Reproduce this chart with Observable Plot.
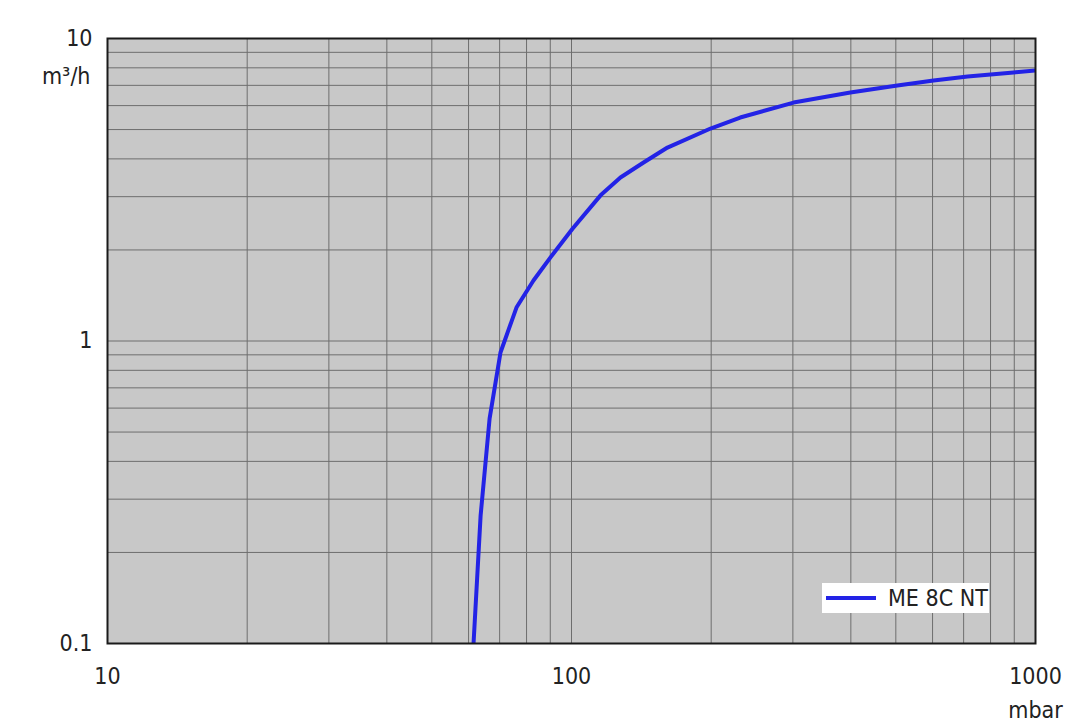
<!DOCTYPE html>
<html>
<head>
<meta charset="utf-8">
<script src="https://cdn.jsdelivr.net/npm/d3@7"></script>
<script src="https://cdn.jsdelivr.net/npm/@observablehq/plot@0.6"></script>
<style>
  html, body { margin: 0; padding: 0; background: #fff; }
  #wrap { position: relative; width: 1080px; height: 721px; font-family: "DejaVu Sans Condensed", "DejaVu Sans", sans-serif; }
  #legend { position: absolute; left: 822px; top: 583px; width: 167px; height: 30px; background: #fff; }
  #legend .sw { position: absolute; left: 4px; top: 13px; width: 50px; height: 4px; background: #2323e6; }
  #legend .lb { position: absolute; left: 66px; top: 0; line-height: 30px; font-size: 23px; color: #222; white-space: nowrap; }
</style>
</head>
<body>
<div id="wrap"></div>
<script>
// Data (pressure in mbar, flow in m³/h)
const pressure = [61.5, 63.7, 66.6, 70.3, 76.1, 82.8, 90.1, 100.5, 115.5, 127.5, 143, 161, 199.4, 231, 301, 399, 504, 603, 714, 897, 1000];
const flow     = [0.1, 0.265, 0.554, 0.916, 1.29, 1.585, 1.89, 2.35, 3.03, 3.47, 3.89, 4.36, 5.04, 5.48, 6.14, 6.63, 6.99, 7.26, 7.49, 7.72, 7.84];
const seriesName = "ME 8C NT";

const xTicks = [10, 100, 1000];
const yTicks = [0.1, 1, 10];
const xGrid = [20, 30, 40, 50, 60, 70, 80, 90, 100, 200, 300, 400, 500, 600, 700, 800, 900];
const yGrid = [0.2, 0.3, 0.4, 0.5, 0.6, 0.7, 0.8, 0.9, 1, 2, 3, 4, 5, 6, 7, 8, 9];
const xUnit = "mbar";
const yUnit = "m³/h";

const data = pressure.map((p, i) => ({p, q: flow[i]}));
const FONT = '"DejaVu Sans Condensed", "DejaVu Sans", sans-serif';

const chart = Plot.plot({
  width: 1080,
  height: 721,
  marginLeft: 107,
  marginRight: 45,
  marginTop: 38,
  marginBottom: 78,
  x: {type: "log", domain: [10, 1000], label: null},
  y: {type: "log", domain: [0.1, 10], label: null},
  style: {fontFamily: FONT, fontSize: "23px", color: "#222", background: "#fff"},
  marks: [
    Plot.frame({fill: "#c8c8c8", stroke: null}),
    Plot.gridX(xGrid, {stroke: "#6e6e6e", strokeOpacity: 1, strokeWidth: 1}),
    Plot.gridY(yGrid, {stroke: "#6e6e6e", strokeOpacity: 1, strokeWidth: 1}),
    Plot.line(data, {x: "p", y: "q", stroke: "#2323e6", strokeWidth: 4, clip: true}),
    Plot.frame({stroke: "#1a1a1a", strokeWidth: 2}),
    Plot.axisX(xTicks, {tickSize: 0, tickPadding: 24, tickFormat: d => String(d), fontSize: 23, label: null}),
    Plot.axisY(yTicks, {tickSize: 0, tickPadding: 15, tickFormat: d => String(d), fontSize: 23, label: null}),
    Plot.text([yUnit], {frameAnchor: "top-left", dx: -17, dy: 38, textAnchor: "end", lineAnchor: "middle", fontSize: 23, fill: "#222"}),
    Plot.text([xUnit], {frameAnchor: "bottom-right", dx: 0, dy: 67, textAnchor: "middle", lineAnchor: "middle", fontSize: 23, fill: "#222"})
  ]
});

const wrap = document.getElementById("wrap");
wrap.appendChild(chart);
const legend = document.createElement("div");
legend.id = "legend";
legend.innerHTML = '<div class="sw"></div><div class="lb"></div>';
legend.querySelector(".lb").textContent = seriesName;
wrap.appendChild(legend);
</script>
</body>
</html>
